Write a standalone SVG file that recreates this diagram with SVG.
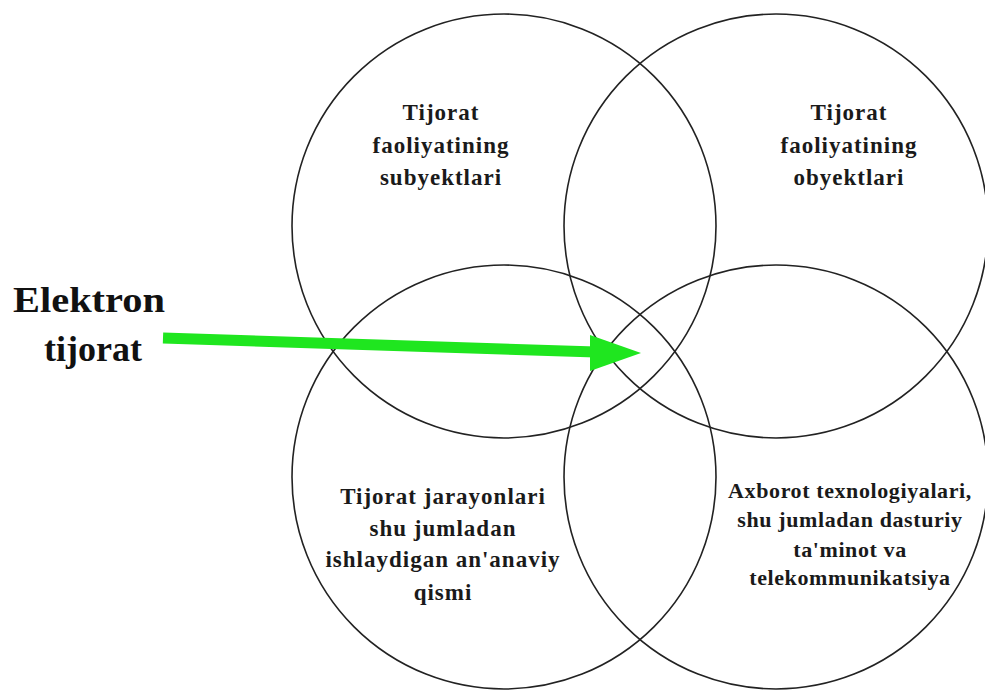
<svg xmlns="http://www.w3.org/2000/svg" width="985" height="690" viewBox="0 0 985 690">
<style>
.c{fill:none;stroke:#222;stroke-width:1.6}
.t{font-family:"Liberation Serif","Times New Roman",serif;font-weight:bold;font-size:23px;fill:#1a1a1a;text-anchor:middle;letter-spacing:1px}
.t2{font-family:"Liberation Serif","Times New Roman",serif;font-weight:bold;font-size:22px;fill:#1a1a1a;text-anchor:middle;letter-spacing:0.6px}
.big{font-family:"Liberation Serif","Times New Roman",serif;font-weight:bold;font-size:36px;fill:#111;text-anchor:middle}
</style>
<rect width="985" height="690" fill="#fff"/>
<g id="subyektlar">
<circle class="c" cx="504" cy="226" r="212"/>
<text class="t" x="441" y="120">Tijorat</text>
<text class="t" x="441" y="153">faoliyatining</text>
<text class="t" x="441" y="185">subyektlari</text>
</g>
<g id="obyektlar">
<circle class="c" cx="776" cy="226" r="212"/>
<text class="t" x="849" y="120">Tijorat</text>
<text class="t" x="849" y="153">faoliyatining</text>
<text class="t" x="849" y="185">obyektlari</text>
</g>
<g id="jarayonlar">
<circle class="c" cx="504" cy="477" r="212"/>
<text class="t" x="443" y="504">Tijorat jarayonlari</text>
<text class="t" x="443" y="536">shu jumladan</text>
<text class="t" x="443" y="567">ishlaydigan an'anaviy</text>
<text class="t" x="443" y="600">qismi</text>
</g>
<g id="texnologiyalar">
<circle class="c" cx="776" cy="477" r="212"/>
<text class="t2" x="850" y="498">Axborot texnologiyalari,</text>
<text class="t2" x="850" y="527">shu jumladan dasturiy</text>
<text class="t2" x="850" y="557">ta'minot va</text>
<text class="t2" x="850" y="585">telekommunikatsiya</text>
</g>
<g id="elektron-tijorat">
<text class="big" x="89" y="312" textLength="152" lengthAdjust="spacingAndGlyphs">Elektron</text>
<text class="big" x="93" y="361">tijorat</text>
</g>
<g id="connectors">
<line x1="163" y1="338" x2="596" y2="352" stroke="#1fe61f" stroke-width="11"/>
<polygon points="590,335 641,353 590,371" fill="#1fe61f"/>
</g>
</svg>
